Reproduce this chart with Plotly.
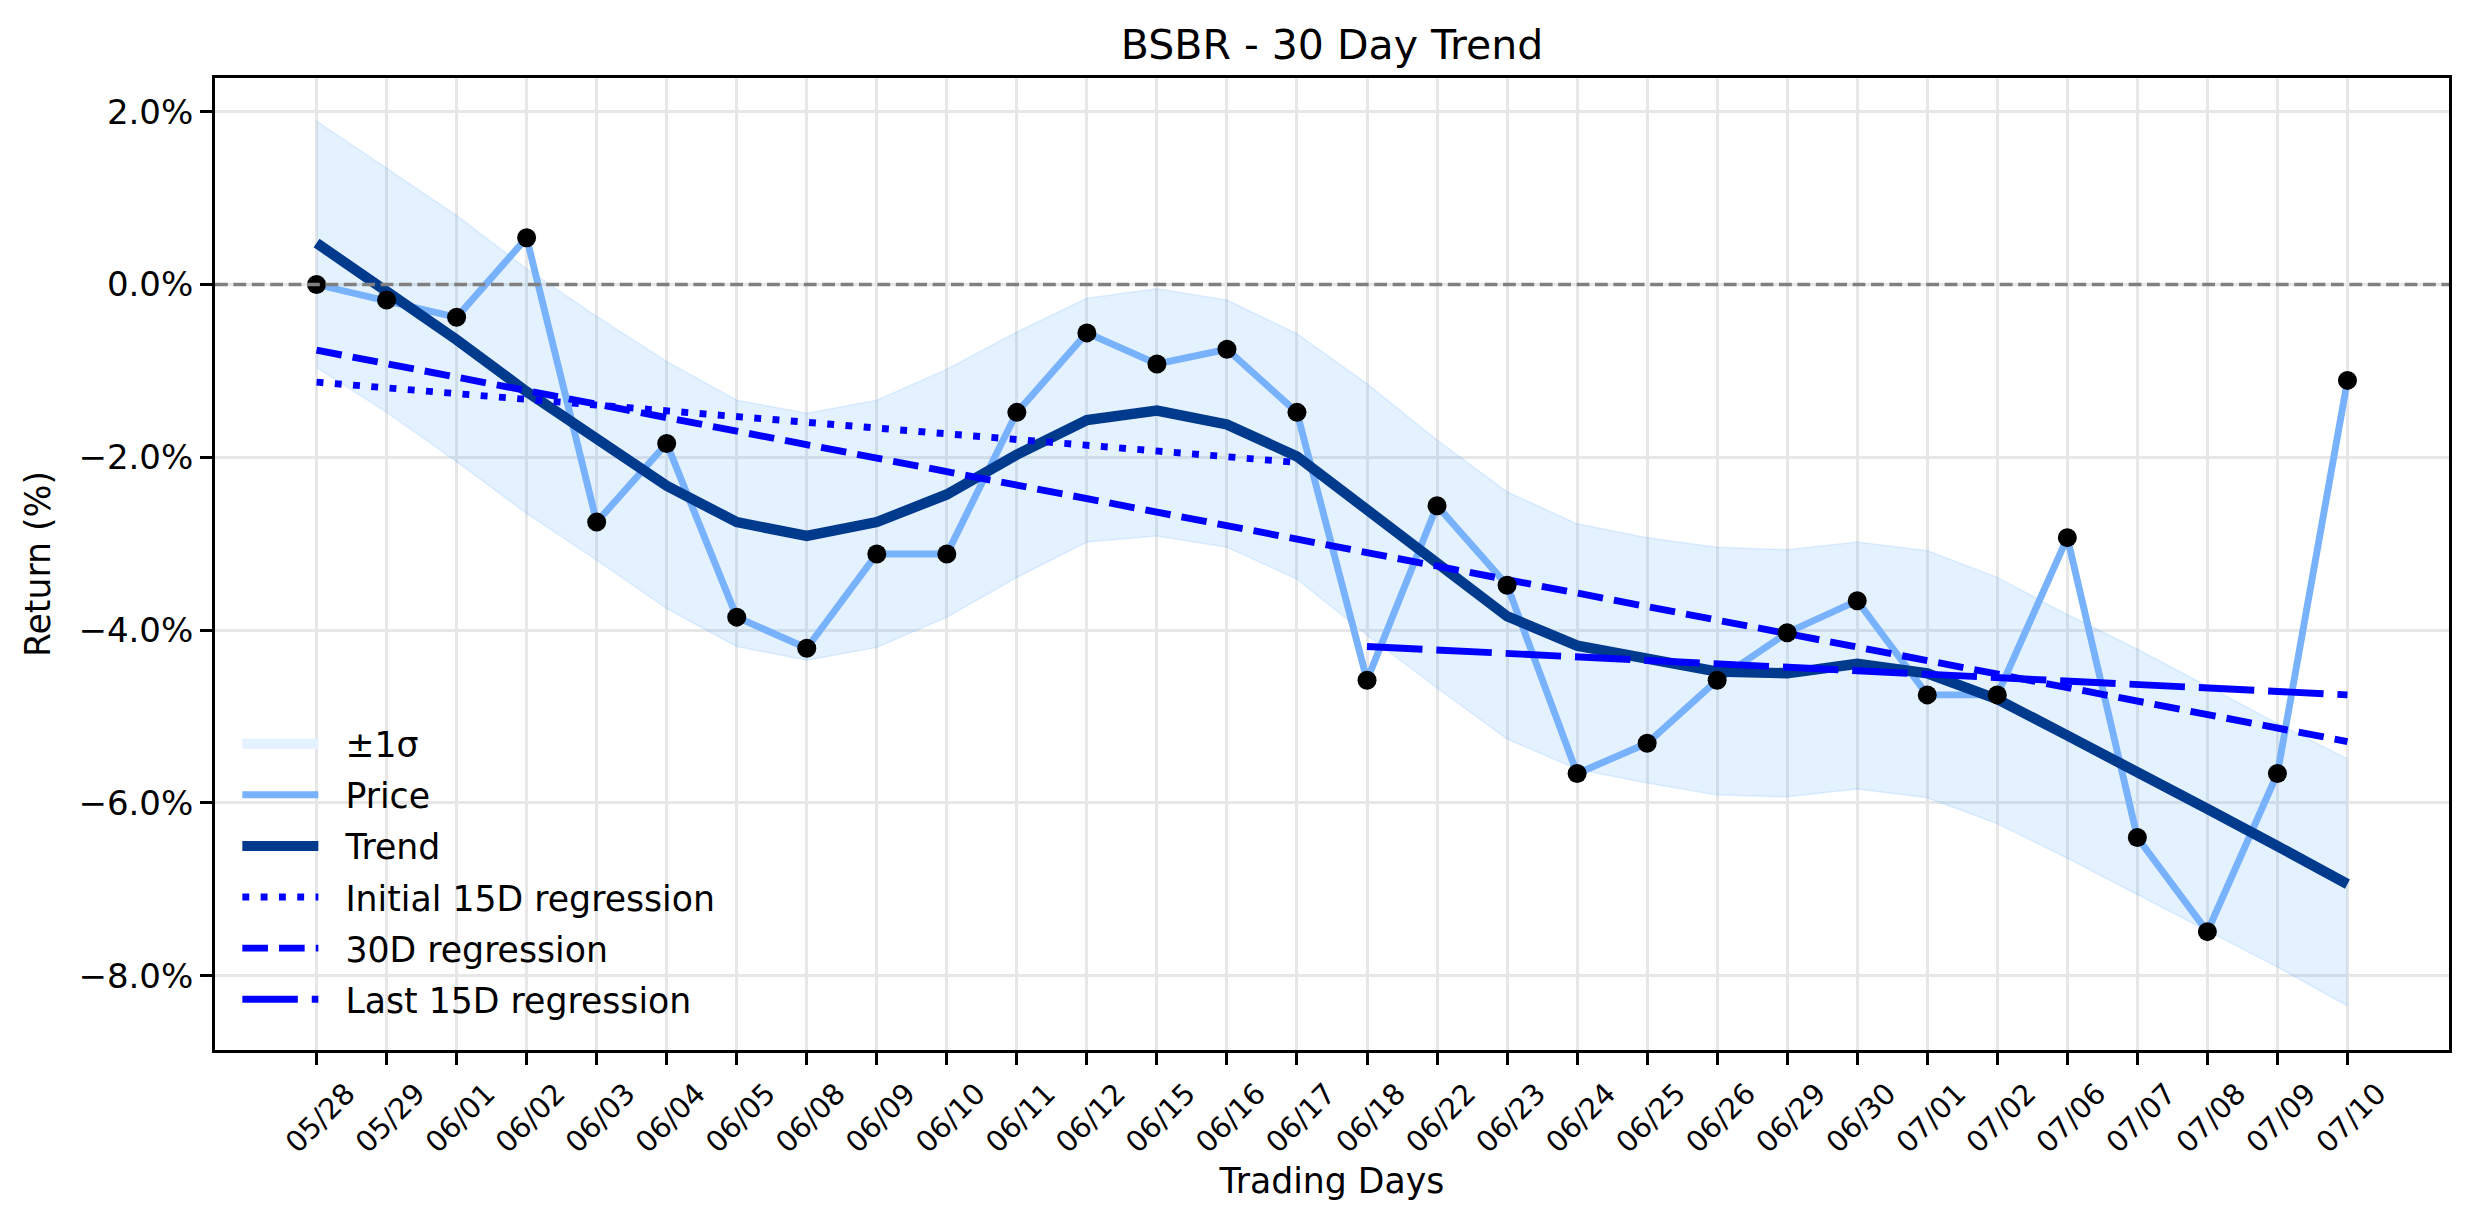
import plotly.graph_objects as go

# ---------------- data ----------------
dates = ["05/28", "05/29", "06/01", "06/02", "06/03", "06/04", "06/05", "06/08",
         "06/09", "06/10", "06/11", "06/12", "06/15", "06/16", "06/17", "06/18",
         "06/22", "06/23", "06/24", "06/25", "06/26", "06/29", "06/30", "07/01",
         "07/02", "07/06", "07/07", "07/08", "07/09", "07/10"]

price = [0.00, -0.18, -0.38, 0.54, -2.75, -1.84, -3.85, -4.21, -3.12, -3.12,
         -1.48, -0.56, -0.92, -0.75, -1.48, -4.58, -2.56, -3.48, -5.66, -5.31,
         -4.58, -4.03, -3.66, -4.75, -4.75, -2.93, -6.40, -7.49, -5.66, -1.11]

trend = [0.48, -0.08, -0.64, -1.24, -1.78, -2.33, -2.75, -2.91, -2.75, -2.43,
         -1.97, -1.57, -1.46, -1.62, -1.99, -2.61, -3.25, -3.84, -4.18, -4.34,
         -4.48, -4.50, -4.39, -4.50, -4.80, -5.22, -5.63, -6.07, -6.50, -6.94]

band_upper = [1.89, 1.35, 0.80, 0.18, -0.37, -0.89, -1.34, -1.49, -1.34, -0.98,
              -0.55, -0.16, -0.05, -0.18, -0.57, -1.15, -1.80, -2.40, -2.77, -2.93,
              -3.04, -3.07, -2.98, -3.08, -3.39, -3.82, -4.22, -4.65, -5.08, -5.49]

band_lower = [-0.96, -1.48, -2.05, -2.65, -3.19, -3.75, -4.19, -4.35, -4.20, -3.85,
              -3.39, -2.98, -2.91, -3.04, -3.41, -4.06, -4.67, -5.26, -5.61, -5.77,
              -5.91, -5.93, -5.84, -5.94, -6.24, -6.64, -7.06, -7.48, -7.90, -8.35]

init_reg_x = ["05/28", "06/17"]
init_reg_y = [-1.13, -2.06]
reg30_x = ["05/28", "07/10"]
reg30_y = [-0.76, -5.29]
last_reg_x = ["06/18", "07/10"]
last_reg_y = [-4.19, -4.75]

y_ticks = [-8, -6, -4, -2, 0, 2]
y_tick_text = [f"{v:.1f}%".replace("-", "\u2212") for v in y_ticks]
zero_level = 0

# ---------------- styles ----------------
FONT = "DejaVu Sans"
band_fill = "rgba(75,162,255,0.15)"
band_swatch = "#e4f1ff"
price_color = "#78b1fc"
trend_color = "#003a8c"
reg_color = "#0000ff"
PAD = "\u00a0\u00a0"

fig = go.Figure()

fig.add_trace(go.Scatter(x=dates, y=band_lower, mode="lines",
                         line=dict(color=band_fill, width=1.5),
                         showlegend=False, hoverinfo="skip"))
fig.add_trace(go.Scatter(x=dates, y=band_upper, mode="lines", fill="tonexty",
                         fillcolor=band_fill, line=dict(color=band_fill, width=1.5),
                         name="±1σ", showlegend=False))
# legend swatch for the band
fig.add_trace(go.Scatter(x=[None], y=[None], mode="lines", name=PAD + "±1σ",
                         line=dict(color=band_swatch, width=27), legendgroup="band"))
fig.add_trace(go.Scatter(x=dates, y=price, mode="lines", name=PAD + "Price",
                         line=dict(color=price_color, width=6.9), legendgroup="price"))
fig.add_trace(go.Scatter(x=dates, y=trend, mode="lines", name=PAD + "Trend",
                         line=dict(color=trend_color, width=10.4), legendgroup="trend"))
fig.add_trace(go.Scatter(x=init_reg_x, y=init_reg_y, mode="lines",
                         name=PAD + "Initial 15D regression",
                         line=dict(color=reg_color, width=6.9, dash="6.9px,11.4px"),
                         legendgroup="init"))
fig.add_trace(go.Scatter(x=reg30_x, y=reg30_y, mode="lines", name=PAD + "30D regression",
                         line=dict(color=reg_color, width=6.9, dash="25.6px,11.1px"),
                         legendgroup="r30"))
fig.add_trace(go.Scatter(x=last_reg_x, y=last_reg_y, mode="lines",
                         name=PAD + "Last 15D regression",
                         line=dict(color=reg_color, width=6.9, dash="55.5px,13.9px"),
                         legendgroup="last"))
fig.add_trace(go.Scatter(x=dates, y=price, mode="markers", showlegend=False,
                         marker=dict(color="black", size=19, line=dict(width=0))))

fig.add_hline(y=zero_level, line=dict(color="#808080", width=3.5, dash="12.8px,5.6px"),
              layer="above")

axis_common = dict(showgrid=True, gridcolor="#e7e7e7", gridwidth=2.8,
                   showline=True, linecolor="black", linewidth=2.8, mirror=True,
                   ticks="outside", ticklen=12, tickwidth=2.8, tickcolor="black",
                   zeroline=False)

fig.update_layout(
    width=2474, height=1224,
    margin=dict(l=215, r=25, t=78, b=174),
    paper_bgcolor="white", plot_bgcolor="white",
    font=dict(family=FONT, color="black"),
    title=dict(text="BSBR - 30 Day Trend", x=0.5, xref="paper", xanchor="center",
               y=1 - 45 / 1224, yref="container", yanchor="middle",
               font=dict(size=41, family=FONT, color="black")),
    xaxis=dict(type="category", categoryorder="array", categoryarray=dates,
               range=[-1.45, 30.45], tickangle=-45, ticklabelshift=30,
               tickfont=dict(size=29, family=FONT),
               title=dict(text="Trading Days", font=dict(size=34.7, family=FONT), standoff=11),
               **axis_common),
    yaxis=dict(range=[-8.86, 2.39], tickmode="array", tickvals=y_ticks, ticktext=y_tick_text,
               tickfont=dict(size=34, family=FONT),
               title=dict(text="Return (%)", font=dict(size=34.7, family=FONT), standoff=18),
               **axis_common),
    legend=dict(x=0.010, y=0.345, xanchor="left", yanchor="top",
                bgcolor="rgba(0,0,0,0)", font=dict(size=34.7, family=FONT),
                itemwidth=76, tracegroupgap=3, traceorder="grouped"),
    showlegend=True,
)

fig.write_html("out.html")
